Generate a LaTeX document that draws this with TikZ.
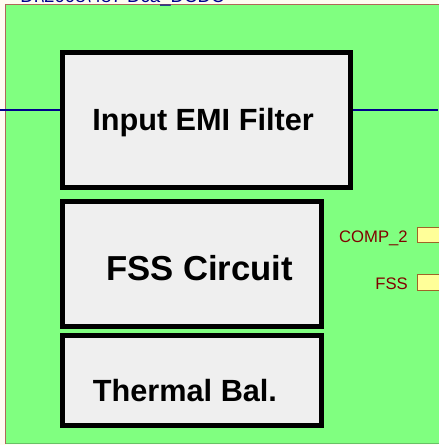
\documentclass[tikz,border=0pt]{standalone}
\usepackage{fontspec}
\setmainfont{Liberation Sans}
\usepackage{xcolor}
\usepackage{tikz}
\usetikzlibrary{positioning, calc}
\definecolor{sheetbg}{RGB}{255, 252, 242}
\definecolor{frameGreen}{RGB}{128, 255, 128}
\definecolor{frameEdge}{RGB}{176, 104, 88}
\definecolor{boxFill}{RGB}{239, 239, 239}
\definecolor{wireBlue}{RGB}{0, 0, 140}
\definecolor{portRed}{RGB}{128, 0, 0}
\definecolor{portFill}{RGB}{255, 255, 153}
\definecolor{portEdge}{RGB}{160, 100, 40}

\begin{document}
\begin{tikzpicture}[
    x=0.75pt, y=-0.75pt,
    blockBox/.style={draw=black, fill=boxFill, line width=3.75pt, inner sep=0pt},
    blockText/.style={anchor=base, font=\fontsize{23}{26}\selectfont\bfseries, inner sep=0pt},
    portText/.style={anchor=base east, font=\fontsize{12.5}{14}\selectfont, color=portRed, inner sep=0pt},
    portPin/.style={draw=portEdge, fill=portFill, line width=0.8pt, minimum width=21pt, minimum height=11.5pt, inner sep=0pt, anchor=west},
    wire/.style={draw=wireBlue, line width=1.2pt}
]
\useasboundingbox[fill=sheetbg] (0,0) rectangle (438,445);

% Sheet frame
\fill[frameGreen] (5.5,4.5) rectangle (450,443.5);
\draw[frameEdge, line width=0.9pt] (5.5,443.5) -- (5.5,4.5) -- (450,4.5);
\draw[green!60!black!60, line width=0.6pt] (5.5,443.5) -- (450,443.5);
\node[anchor=base west, font=\fontsize{14}{16}\selectfont, color=wireBlue, inner sep=0pt] (sheetName) at (20,2.5) {D:\textbackslash 2008\textbackslash 487 Dca\_DCDC};

% Blocks
\node[blockBox, minimum width=216pt, minimum height=101.25pt] (emi) at (206.5,120) {};
\node[blockBox, minimum width=194.25pt, minimum height=93.75pt] (fss) at (192,264) {};
\node[blockBox, minimum width=194.25pt, minimum height=67.5pt] (thermal) at (192,380.5) {};
\node[blockText] (emiLabel) at (203,131) {Input EMI Filter};
\node[blockText, font=\fontsize{26}{29}\selectfont\bfseries] (fssLabel) at (199.5,280) {FSS Circuit};
\node[blockText] (thermalLabel) at (185,401) {Thermal Bal.};

% Input / output wires
\coordinate (wireIn) at (0,110);
\coordinate (wireOut) at (438,110);
\draw[wire] (wireIn) -- (wireIn -| emi.west);
\draw[wire] (wireIn -| emi.east) -- (wireOut);

% Ports
\node[portPin] (compPin) at (417,235) {};
\node[portPin] (fssPin) at (417,282.5) {};
\node[portText] (compLabel) at (408,242) {COMP\_2};
\node[portText] (fssPortLabel) at (408,289) {FSS};

\end{tikzpicture}
\end{document}
